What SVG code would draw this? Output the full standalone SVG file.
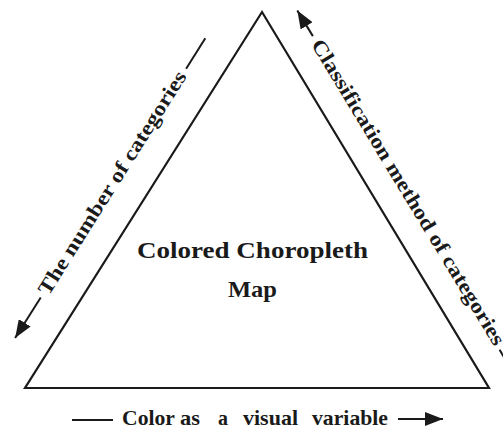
<svg xmlns="http://www.w3.org/2000/svg" width="503" height="432" viewBox="0 0 503 432">
<style>
.edge{fill:none;stroke:#1a1a1a;stroke-width:2.2;stroke-linejoin:miter}
.conn{fill:none;stroke:#1a1a1a;stroke-width:2}
.lbl{font-family:"Liberation Serif","Times New Roman",serif;font-weight:bold;fill:#1a1a1a}
</style>
<defs>
<marker id="ah" markerUnits="userSpaceOnUse" markerWidth="19" markerHeight="14" refX="18" refY="7" orient="auto">
<path d="M0,0 L18,7 L0,14 z" fill="#1a1a1a"/>
</marker>
</defs>
<g id="triangle">
<polygon class="edge" points="262,12 489,388 25,388"/>
</g>
<g id="center-label">
<text class="lbl" x="252.5" y="258" font-size="23" text-anchor="middle" textLength="231" lengthAdjust="spacingAndGlyphs">Colored Choropleth</text>
<text class="lbl" x="252.5" y="297" font-size="24" text-anchor="middle" textLength="49" lengthAdjust="spacingAndGlyphs">Map</text>
</g>
<g id="connectors">
<g transform="translate(25,388) rotate(-57.77)">
<line class="conn" x1="85" y1="-35" x2="37" y2="-35" marker-end="url(#ah)"/>
<line class="conn" x1="356" y1="-34" x2="392" y2="-34"/>
</g>
<g transform="translate(262,12) rotate(58.77)">
<line class="conn" x1="47" y1="-31" x2="17" y2="-31" marker-end="url(#ah)"/>
<line class="conn" x1="412" y1="-28" x2="445" y2="-28"/>
</g>
<line class="conn" x1="72" y1="420" x2="113" y2="420"/>
<line class="conn" x1="398" y1="419" x2="443" y2="419" marker-end="url(#ah)"/>
</g>
<g id="left-label">
<text class="lbl" transform="translate(25,388) rotate(-57.77)" x="220" y="-29" font-size="20.5" text-anchor="middle" textLength="260" lengthAdjust="spacingAndGlyphs">The number of categories</text>
</g>
<g id="right-label">
<text class="lbl" transform="translate(262,12) rotate(58.77)" x="230" y="-25" font-size="20.5" text-anchor="middle" textLength="354" lengthAdjust="spacingAndGlyphs">Classification method of categories</text>
</g>
<g id="bottom-label">
<text class="lbl" y="425" font-size="21"><tspan x="122" textLength="53" lengthAdjust="spacingAndGlyphs">Color</tspan><tspan x="180" textLength="20" lengthAdjust="spacingAndGlyphs">as</tspan><tspan x="218" textLength="10" lengthAdjust="spacingAndGlyphs">a</tspan><tspan x="243" textLength="55" lengthAdjust="spacingAndGlyphs">visual</tspan><tspan x="312" textLength="76" lengthAdjust="spacingAndGlyphs">variable</tspan></text>
</g>
</svg>
